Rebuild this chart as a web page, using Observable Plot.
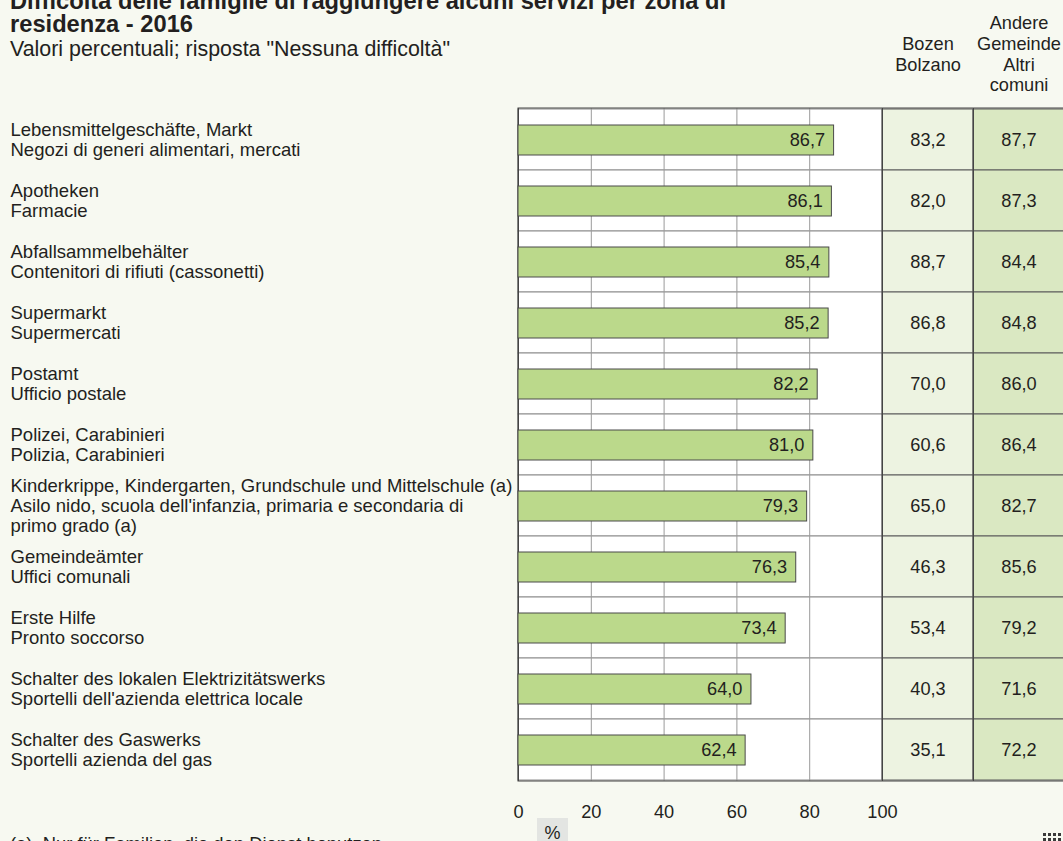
<!DOCTYPE html>
<html>
<head>
<meta charset="utf-8">
<script src="https://cdn.jsdelivr.net/npm/d3@7"></script>
<script src="https://cdn.jsdelivr.net/npm/@observablehq/plot@0.6"></script>
<style>
  html, body { margin: 0; padding: 0; background: #f7f9f1; overflow: hidden; }
  #page { position: relative; width: 1063px; height: 841px; overflow: hidden;
          font-family: "Liberation Sans", Arial, sans-serif; color: #231f20; }
  #chart { position: absolute; left: 0; top: 0; }
  #title { position: absolute; left: 10px; top: -10.5px; font-weight: bold; font-size: 23.7px; line-height: 23.5px; white-space: nowrap; }
  #subtitle { position: absolute; left: 10px; top: 37.5px; font-size: 21.4px; line-height: 22px; white-space: nowrap; }
  #unit { position: absolute; left: 537px; top: 818px; width: 31px; height: 30px; background: #e3e5e2;
          font-size: 18px; text-align: center; line-height: 30px; }
  #note { position: absolute; left: 10px; top: 833px; font-size: 18.4px; white-space: nowrap; }
  #logo { position: absolute; left: 1043px; top: 833px; display: grid; grid-template-columns: repeat(4, 3px); gap: 2px; }
  #logo span { width: 3px; height: 3px; background: #3a3a3a; }
</style>
</head>
<body>
<div id="page">
  <div id="chart"></div>
  <div id="title">Difficoltà delle famiglie di raggiungere alcuni servizi per zona di<br>residenza - 2016</div>
  <div id="subtitle">Valori percentuali; risposta "Nessuna difficoltà"</div>
  <div id="unit">%</div>
  <div id="note">(a)&nbsp; Nur für Familien, die den Dienst benutzen</div>
  <div id="logo"><span></span><span></span><span></span><span></span><span></span><span></span><span></span><span></span></div>
</div>
<script>
// Services (German / Italian names)
const servicesDe = [
  "Lebensmittelgeschäfte, Markt",
  "Apotheken",
  "Abfallsammelbehälter",
  "Supermarkt",
  "Postamt",
  "Polizei, Carabinieri",
  "Kinderkrippe, Kindergarten, Grundschule und Mittelschule (a)",
  "Gemeindeämter",
  "Erste Hilfe",
  "Schalter des lokalen Elektrizitätswerks",
  "Schalter des Gaswerks"
];
const servicesIt = [
  "Negozi di generi alimentari, mercati",
  "Farmacie",
  "Contenitori di rifiuti (cassonetti)",
  "Supermercati",
  "Ufficio postale",
  "Polizia, Carabinieri",
  "Asilo nido, scuola dell'infanzia, primaria e secondaria di\nprimo grado (a)",
  "Uffici comunali",
  "Pronto soccorso",
  "Sportelli dell'azienda elettrica locale",
  "Sportelli azienda del gas"
];

// Share of households reporting "no difficulty" (%)
const totalValues   = [86.7, 86.1, 85.4, 85.2, 82.2, 81.0, 79.3, 76.3, 73.4, 64.0, 62.4];
const bolzanoValues = [83.2, 82.0, 88.7, 86.8, 70.0, 60.6, 65.0, 46.3, 53.4, 40.3, 35.1];
const otherValues   = [87.7, 87.3, 84.4, 84.8, 86.0, 86.4, 82.7, 85.6, 79.2, 71.6, 72.2];

const xTicks = [0, 20, 40, 60, 80, 100];
const columnHeads = ["Bozen\nBolzano", "Andere\nGemeinde\nAltri\ncomuni"];

const rows = servicesDe.map((de, i) => ({
  key: de,
  label: de + "\n" + servicesIt[i],
  total: totalValues[i],
  bolzano: bolzanoValues[i],
  other: otherValues[i]
}));

const fmt = v => v.toFixed(1).replace(".", ",");

// The table columns sit to the right of the bar area on the same x scale
const tableCols = [
  {head: columnHeads[0], field: "bolzano", x1: 100, x2: 125, fill: "#edf3e1"},
  {head: columnHeads[1], field: "other",   x1: 125, x2: 150, fill: "#dae8c2"}
];
const cells = tableCols.flatMap(c => rows.map(r => ({key: r.key, x1: c.x1, x2: c.x2, fill: c.fill, value: r[c.field]})));

const FONT = 18.2;
const LABEL_FONT = 18.5;

const chart = Plot.plot({
  width: 1063,
  height: 841,
  marginTop: 108,
  marginBottom: 60,
  marginLeft: 518,
  marginRight: 0,
  style: {background: "transparent", fontFamily: "'Liberation Sans', Arial, sans-serif", fontSize: FONT + "px", color: "#231f20"},
  x: {domain: [0, 150], range: [518, 1064]},
  y: {type: "band", domain: rows.map(d => d.key), padding: 0, axis: null},
  marks: [
    // bar area cells
    Plot.rect(rows, {x1: 0, x2: 100, y: "key", fill: "white", stroke: "#8c8c8c"}),
    // table cells
    Plot.rect(cells, {x1: "x1", x2: "x2", y: "key", fill: "fill", stroke: "#5a5a5a"}),
    // vertical grid
    Plot.ruleX(xTicks.filter(t => t > 0 && t < 100), {stroke: "#9a9a9a"}),
    // outer borders
    Plot.rect([null], {x1: 0, x2: 150, fill: "none", stroke: "#444"}),
    Plot.ruleX([0, 100, 125], {stroke: "#444"}),
    // bars
    Plot.barX(rows, {x: "total", y: "key", fill: "#bbd98b", stroke: "#4a4a4a", insetTop: 16, insetBottom: 15}),
    Plot.text(rows, {x: "total", y: "key", text: d => fmt(d.total), textAnchor: "end", dx: -9, fill: "#231f20"}),
    // table values
    Plot.text(cells, {x: d => (d.x1 + d.x2) / 2, y: "key", text: d => fmt(d.value), fill: "#231f20"}),
    // row labels
    Plot.text(rows, {y: "key", text: "label", frameAnchor: "left", textAnchor: "start", dx: -508, fontSize: LABEL_FONT, lineHeight: 20 / LABEL_FONT, fill: "#231f20"}),
    // column headers
    Plot.text(tableCols, {x: d => (d.x1 + d.x2) / 2, text: "head", frameAnchor: "top", lineAnchor: "middle", dy: -55, lineHeight: 20.8 / FONT, fill: "#231f20"}),
    // x axis
    Plot.axisX(xTicks, {tickSize: 0, tickPadding: 24, label: null, tickFormat: d => d, fill: "#231f20"})
  ]
});

document.getElementById("chart").appendChild(chart);
</script>
</body>
</html>
